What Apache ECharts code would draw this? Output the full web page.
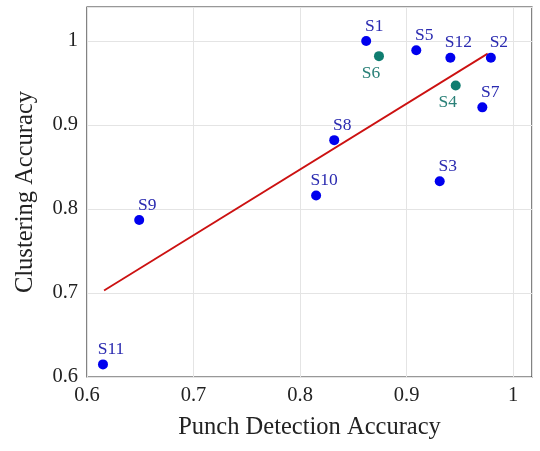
<!DOCTYPE html>
<html>
<head>
<meta charset="utf-8">
<script src="https://cdn.jsdelivr.net/npm/echarts@6/dist/echarts.min.js"></script>
<style>
  html, body { margin: 0; padding: 0; background: #fff; }
  #chart { width: 540px; height: 451px; }
</style>
</head>
<body>
<div id="chart"></div>
<script>
// 受试者数据
var subjects = ['S1', 'S2', 'S3', 'S4', 'S5', 'S6', 'S7', 'S8', 'S9', 'S10', 'S11', 'S12'];
var punchAcc = [0.862, 0.979, 0.931, 0.946, 0.909, 0.874, 0.971, 0.832, 0.649, 0.815, 0.615, 0.941];
var clusterAcc = [1.000, 0.980, 0.833, 0.947, 0.989, 0.982, 0.921, 0.882, 0.787, 0.816, 0.615, 0.980];
var tealSubjects = ['S4', 'S6'];
// 拟合直线两端
var fitX = [0.616, 0.976];
var fitY = [0.703, 0.985];
var xTicks = [0.6, 0.7, 0.8, 0.9, 1];
var yTicks = [0.6, 0.7, 0.8, 0.9, 1];

var fontName = 'Liberation Serif';

function buildPoints(teal) {
  var arr = [];
  for (var i = 0; i < subjects.length; i++) {
    var isTeal = tealSubjects.indexOf(subjects[i]) >= 0;
    if (isTeal == teal) {
      arr.push({ name: subjects[i], value: [punchAcc[i], clusterAcc[i]] });
    }
  }
  return arr;
}

function tickLabel(list) {
  return function (value) {
    for (var i = 0; i < list.length; i++) {
      if (Math.abs(list[i] - value) < 1e-6) return String(list[i]);
    }
    return '';
  };
}

var dom = document.getElementById('chart');
var myChart = echarts.init(dom);
var option = {
  animation: false,
  backgroundColor: '#fff',
  grid: {
    left: 87,
    right: 8,
    top: 7,
    bottom: 74,
    show: true,
    borderColor: '#333',
    borderWidth: 1.2
  },
  xAxis: {
    type: 'value',
    min: 0.6,
    max: 1.0176,
    interval: 0.1,
    name: 'Punch Detection Accuracy',
    nameLocation: 'middle',
    nameGap: 38,
    nameTextStyle: { fontFamily: fontName, fontSize: 24.5, color: '#222' },
    axisLine: { show: false },
    axisTick: { show: false },
    splitLine: { show: true, lineStyle: { color: '#e4e4e4', width: 1 } },
    axisLabel: {
      fontFamily: fontName,
      fontSize: 20.5,
      color: '#222',
      margin: 8,
      formatter: tickLabel(xTicks)
    }
  },
  yAxis: {
    type: 'value',
    min: 0.6,
    max: 1.0405,
    interval: 0.1,
    name: 'Clustering Accuracy',
    nameLocation: 'middle',
    nameGap: 49,
    nameTextStyle: { fontFamily: fontName, fontSize: 24.5, color: '#222' },
    axisLine: { show: false },
    axisTick: { show: false },
    splitLine: { show: true, lineStyle: { color: '#e4e4e4', width: 1 } },
    axisLabel: {
      fontFamily: fontName,
      fontSize: 20.5,
      color: '#222',
      margin: 9,
      formatter: tickLabel(yTicks)
    }
  },
  series: [
    {
      type: 'line',
      data: [[fitX[0], fitY[0]], [fitX[1], fitY[1]]],
      symbol: 'none',
      lineStyle: { color: '#cc1111', width: 1.8 },
      z: 2
    },
    {
      type: 'scatter',
      data: buildPoints(false),
      symbolSize: 10,
      itemStyle: { color: '#0000ee', opacity: 1 },
      label: {
        show: true,
        position: 'top',
        offset: [8, 4],
        formatter: '{b}',
        fontFamily: fontName,
        fontSize: 17.5,
        color: '#2a2ab0'
      },
      z: 3
    },
    {
      type: 'scatter',
      data: buildPoints(true),
      symbolSize: 10,
      itemStyle: { color: '#0f7d70', opacity: 1 },
      label: {
        show: true,
        position: 'bottom',
        offset: [-8, -2],
        formatter: '{b}',
        fontFamily: fontName,
        fontSize: 17.5,
        color: '#2a8078'
      },
      z: 3
    }
  ]
};
myChart.setOption(option, true);
</script>
</body>
</html>
